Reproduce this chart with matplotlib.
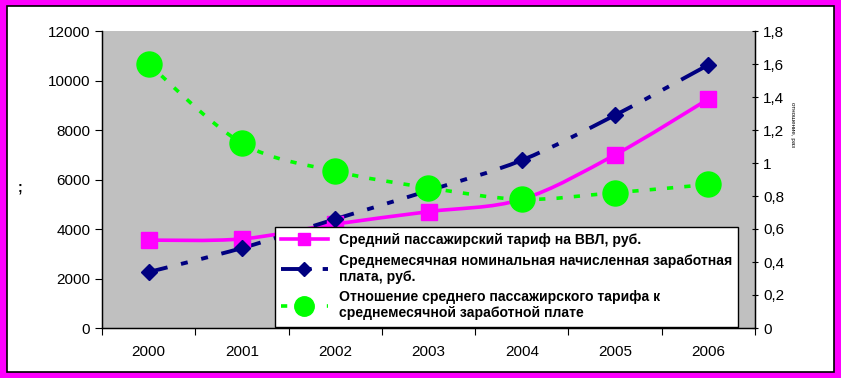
import matplotlib.pyplot as plt
import numpy as np
from matplotlib.path import Path
from matplotlib.patches import PathPatch, Rectangle
from matplotlib.lines import Line2D

plt.rcParams['font.family'] = ['Liberation Sans Narrow', 'Liberation Sans', 'DejaVu Sans']
plt.rcParams['lines.scale_dashes'] = False

years = ['2000', '2001', '2002', '2003', '2004', '2005', '2006']
tariff = [3550, 3600, 4200, 4700, 5200, 7000, 9250]
salary = [2260, 3230, 4400, 5550, 6780, 8600, 10630]
ratio = [1.6, 1.12, 0.95, 0.85, 0.78, 0.82, 0.87]

lbl_tariff = 'Средний пассажирский тариф на ВВЛ, руб.'
lbl_salary = 'Среднемесячная номинальная начисленная заработная\nплата, руб.'
lbl_ratio = 'Отношение среднего пассажирского тарифа к\nсреднемесячной заработной плате'

PINK = '#ff00ff'
NAVY = '#000080'
GREEN = '#00ff00'
# dash patterns in points
blue_dash = (0, (14, 10, 5, 10, 5, 10, 60, 10))
green_dash = (0, (4.5, 8))


def smooth_segments(xs, ys):
    # one bezier piece per interval, like excel "smoothed line"
    p = np.column_stack([xs, ys]).astype(float)
    n = len(p)
    segs = []
    for i in range(n - 1):
        p0 = p[i - 1] if i > 0 else p[i]
        p3 = p[i + 2] if i + 2 < n else p[i + 1]
        c1 = p[i] + (p[i + 1] - p0) / 6
        c2 = p[i + 1] - (p3 - p[i]) / 6
        segs.append(Path([p[i], c1, c2, p[i + 1]],
                         [Path.MOVETO, Path.CURVE4, Path.CURVE4, Path.CURVE4]))
    return segs


fig = plt.figure(figsize=(8.41, 3.78), dpi=100)
fig.patch.set_facecolor(PINK)
fig.patches.append(Rectangle((7 / 841, 6 / 378), 827 / 841, 366 / 378,
                             transform=fig.transFigure, facecolor='white',
                             edgecolor='black', linewidth=1.2, zorder=-5))

ax = fig.add_axes([102 / 841, 50 / 378, 653 / 841, 297 / 378])
ax.set_facecolor('#c0c0c0')
x = np.arange(len(years))

for seg in smooth_segments(x, tariff):
    ax.add_patch(PathPatch(seg, fill=False, edgecolor=PINK, linewidth=2.6,
                           capstyle='butt', zorder=3))
ax.plot(x, tariff, linestyle='none', marker='s', markersize=11,
        color=PINK, zorder=4)

for seg in smooth_segments(x, salary):
    ax.add_patch(PathPatch(seg, fill=False, edgecolor=NAVY, linewidth=2.8,
                           linestyle=blue_dash, capstyle='butt', zorder=3))
ax.plot(x, salary, linestyle='none', marker='D', markersize=8,
        color=NAVY, zorder=4)

ax.set_xlim(-0.5, 6.5)
ax.set_ylim(0, 12000)
ax.set_yticks(np.arange(0, 12001, 2000))
ax.set_xticks(np.arange(-0.5, 7, 1))
ax.set_xticklabels([])
ax.set_xticks(x, minor=True)
ax.set_xticklabels(years, minor=True, fontsize=11)
ax.tick_params(axis='x', which='minor', length=0, pad=12)
ax.tick_params(axis='x', which='major', length=5, direction='out')
ax.tick_params(axis='y', length=5, labelsize=11, direction='out')
ax.spines['top'].set_visible(False)
for s in ['left', 'bottom', 'right']:
    ax.spines[s].set_linewidth(1.0)

ax2 = ax.twinx()
for seg in smooth_segments(x, ratio):
    ax2.add_patch(PathPatch(seg, fill=False, edgecolor=GREEN, linewidth=2.6,
                            linestyle=green_dash, capstyle='butt', zorder=3))
ax2.plot(x, ratio, linestyle='none', marker='o', markersize=18,
         color=GREEN, zorder=4)
ax2.set_ylim(0, 1.8)
ax2.set_yticks(np.arange(0, 1.81, 0.2))
ax2.set_yticklabels(['0', '0,2', '0,4', '0,6', '0,8', '1', '1,2', '1,4', '1,6', '1,8'])
ax2.tick_params(axis='y', length=5, labelsize=11, direction='inout')
ax2.spines['top'].set_visible(False)

handles = [
    Line2D([], [], color=PINK, linewidth=2.6, marker='s', markersize=9),
    Line2D([], [], color=NAVY, linewidth=2.8, linestyle=(0, (22, 8)),
           marker='D', markersize=7),
    Line2D([], [], color=GREEN, linewidth=2.6, linestyle=(0, (4.5, 12)),
           marker='o', markersize=14),
]
leg = ax2.legend(handles, [lbl_tariff, lbl_salary, lbl_ratio],
                 loc='upper left', bbox_to_anchor=(275 / 841, 1 - 227 / 378),
                 bbox_transform=fig.transFigure, frameon=True, fancybox=False,
                 edgecolor='black', framealpha=1, handlelength=3.3,
                 handletextpad=0.8,
                 prop={'weight': 'bold', 'size': 10.1,
                       'family': ['Liberation Sans', 'DejaVu Sans']},
                 labelspacing=0.45, borderpad=0.45, borderaxespad=0)
leg.get_frame().set_linewidth(1.0)
leg.set_zorder(10)

fig.text(20 / 841, 1 - 188 / 378, ';', fontsize=10, fontweight='bold',
         ha='center', va='center')
fig.text(792 / 841, 1 - 125 / 378, 'отношение, раз', fontsize=4.5,
         rotation=270, ha='center', va='center')

fig.savefig('out.png', dpi=100, facecolor=fig.get_facecolor())
